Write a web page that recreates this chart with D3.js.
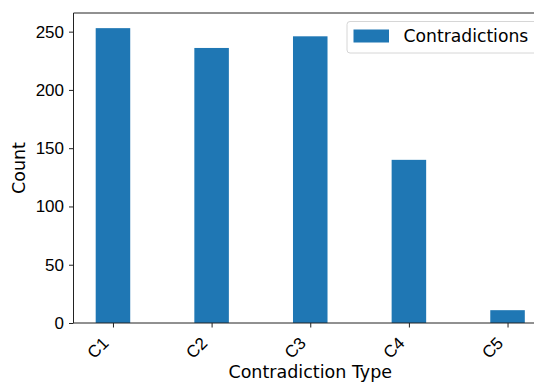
<!DOCTYPE html>
<html lang="en">
<head>
<meta charset="utf-8">
<title>Contradictions by type</title>
<script src="https://cdnjs.cloudflare.com/ajax/libs/d3/7.8.5/d3.min.js"></script>
<style>
  html, body { margin: 0; padding: 0; background: #fff; }
  svg { display: block; font-family: "DejaVu Sans", sans-serif; }
  .axis text { font-size: 17px; fill: #000; }
  .axis path, .axis line { stroke: #222; stroke-width: 1; }
  text.label { font-size: 17.5px; fill: #000; }
  text.legend { font-size: 17.2px; fill: #000; }
</style>
</head>
<body>
<svg width="534" height="382"></svg>
<script>
// data
const categories = ["C1", "C2", "C3", "C4", "C5"];
const counts = [253, 236, 246, 140, 11];
const yTicks = [0, 50, 100, 150, 200, 250];
const seriesName = "Contradictions";

const svg = d3.select("svg");

// axes box (right side runs past the window, as in the picture)
const plotL = 73.5, plotR = 547, plotT = 13, plotB = 323;

const x = d3.scaleLinear()
    .domain([-0.4, categories.length - 1 + 0.4])
    .range([plotL, plotR]);

const y = d3.scaleLinear()
    .domain([0, 266])
    .range([plotB, plotT]);

const barW = 0.35;

// bars
svg.append("g")
    .selectAll("rect")
    .data(counts)
    .join("rect")
    .attr("x", (d, i) => x(i - barW / 2))
    .attr("width", (d, i) => x(i + barW / 2) - x(i - barW / 2))
    .attr("y", d => y(d))
    .attr("height", d => y(0) - y(d))
    .attr("fill", "#1f77b4");

// y axis
const yAxis = svg.append("g")
    .attr("class", "axis")
    .attr("transform", `translate(${plotL},0)`)
    .call(d3.axisLeft(y).tickValues(yTicks).tickSize(4.5).tickPadding(5).tickSizeOuter(0));
yAxis.select(".domain").attr("d", `M0,${plotB}V${plotT}`);

// x axis
const xAxis = svg.append("g")
    .attr("class", "axis")
    .attr("transform", `translate(0,${plotB})`)
    .call(d3.axisBottom(x)
        .tickValues(d3.range(categories.length))
        .tickFormat(i => categories[i])
        .tickSize(4.5)
        .tickSizeOuter(0));
xAxis.select(".domain").attr("d", `M${plotL},0H${plotR}`);
// rotated labels, right end tucked under the tick
xAxis.selectAll(".tick text")
    .attr("text-anchor", "end")
    .attr("y", 0)
    .attr("dy", "0.35em")
    .attr("transform", "translate(-8,17) rotate(-45)");

// top spine
svg.append("line")
    .attr("x1", plotL).attr("x2", plotR)
    .attr("y1", plotT).attr("y2", plotT)
    .attr("stroke", "#222");

// axis labels
svg.append("text")
    .attr("class", "label")
    .attr("x", (plotL + plotR) / 2)
    .attr("y", 377.5)
    .attr("text-anchor", "middle")
    .text("Contradiction Type");

svg.append("text")
    .attr("class", "label")
    .attr("transform", `translate(24.5,${(plotT + plotB) / 2}) rotate(-90)`)
    .attr("text-anchor", "middle")
    .text("Count");

// legend
const legend = svg.append("g").attr("transform", "translate(347,21.5)");
legend.append("rect")
    .attr("width", 200).attr("height", 31.5)
    .attr("rx", 3)
    .attr("fill", "#fff").attr("fill-opacity", 0.8)
    .attr("stroke", "#d6d6d6");
legend.append("rect")
    .attr("x", 6.5).attr("y", 8)
    .attr("width", 35.5).attr("height", 13)
    .attr("fill", "#1f77b4");
legend.append("text")
    .attr("class", "legend")
    .attr("x", 56.5).attr("y", 20.5)
    .text(seriesName);
</script>
</body>
</html>
